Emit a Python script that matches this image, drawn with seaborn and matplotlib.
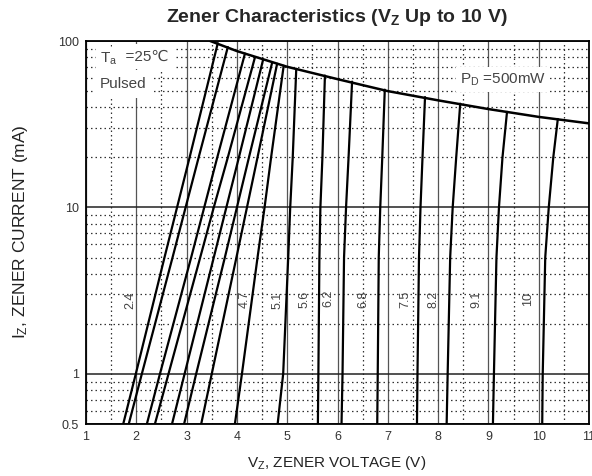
"""
Caracteristiques Zener (Vz jusqu'a 10 V) - courbes I/V en impulsion, Ta = 25 C.
"""

import matplotlib
matplotlib.use("Agg")
import numpy as np
import pandas as pd
import matplotlib.pyplot as plt
import seaborn as sns

# Diodes tracees (tension nominale)
DIODES = ["2.4", "2.7", "3.0", "3.3", "3.6", "3.9", "4.3", "4.7", "5.1",
          "5.6", "6.2", "6.8", "7.5", "8.2", "9.1", "10"]

# Courants de lecture (mA) et tension lue pour chaque diode
I_POINTS = [0.5, 1, 5, 10, 20]
V_05MA = [1.74, 1.85, 2.21, 2.37, 2.71, 2.95, 3.29, 3.96, 4.81,
          5.61, 6.08, 6.79, 7.58, 8.17, 9.09, 10.07]
V_1MA = [1.99, 2.11, 2.47, 2.64, 2.96, 3.19, 3.50, 4.10, 4.92,
         5.62, 6.10, 6.80, 7.59, 8.19, 9.11, 10.08]
V_5MA = [2.56, 2.72, 3.09, 3.27, 3.54, 3.76, 3.99, 4.41, 5.02,
         5.64, 6.13, 6.82, 7.62, 8.24, 9.16, 10.13]
V_10MA = [2.81, 2.98, 3.35, 3.54, 3.79, 4.00, 4.20, 4.55, 5.06,
          5.66, 6.17, 6.85, 7.65, 8.29, 9.21, 10.20]
V_20MA = [3.06, 3.24, 3.61, 3.82, 4.04, 4.24, 4.41, 4.68, 5.11,
          5.70, 6.22, 6.89, 7.69, 8.36, 9.28, 10.29]
# Point d'arrivee sur la limite 500 mW
V_TOP = [3.62, 3.82, 4.16, 4.36, 4.52, 4.70, 4.80, 4.93, 5.18,
         5.75, 6.29, 6.94, 7.74, 8.44, 9.37, 10.38]
I_TOP = [97, 92, 84, 80, 77, 74, 73, 71, 68,
         62, 57, 51, 46, 42, 37.5, 34]

# Limite de puissance PD = 500 mW
V_PD = [3.47, 4.0, 5.0, 6.0, 7.0, 8.0, 9.0, 10.0, 11.0]
I_PD = [100, 87, 70, 59, 50, 44, 39, 35, 32]

# Etiquettes des courbes
LABELS = ["2.4", "4.7", "5.1", "5.6", "6.2", "6.8", "7.5", "8.2", "9.1", "10"]
LABEL_V = [1.89, 4.16, 4.80, 5.35, 5.81, 6.51, 7.34, 7.90, 8.77, 9.79]
LABEL_I = [2.75, 2.8, 2.75, 2.8, 2.85, 2.8, 2.8, 2.8, 2.8, 2.8]


def construire_table():
    """Table longue : une ligne par point de chaque courbe."""
    lignes = []
    for k, d in enumerate(DIODES):
        vs = [V_05MA[k], V_1MA[k], V_5MA[k], V_10MA[k], V_20MA[k], V_TOP[k]]
        cs = I_POINTS + [I_TOP[k]]
        for v, c in zip(vs, cs):
            lignes.append({"diode": d, "V": v, "I": c})
    return pd.DataFrame(lignes)


def main():
    sns.set_theme(style="white")
    plt.rcParams["font.family"] = ["Liberation Sans", "DejaVu Sans", "Noto Sans CJK SC"]
    plt.rcParams["mathtext.fontset"] = "custom"
    plt.rcParams["mathtext.rm"] = "Liberation Sans"
    plt.rcParams["mathtext.it"] = "Liberation Sans:italic"
    plt.rcParams["mathtext.bf"] = "Liberation Sans:bold"

    df = construire_table()

    fig = plt.figure(figsize=(5.92, 4.76), dpi=100)
    ax = fig.add_axes([86 / 592, 1 - 424 / 476, 503 / 592, 383 / 476])
    ax.set_yscale("log")

    sns.lineplot(data=df, x="V", y="I", units="diode", estimator=None,
                 sort=False, color="black", lw=1.6, ax=ax)
    sns.lineplot(x=V_PD, y=I_PD, sort=False, color="black", lw=1.8, ax=ax)

    ax.set_xlim(1, 11)
    ax.set_ylim(0.5, 100)

    # Grille : traits pleins aux volts entiers et aux decades, pointilles ailleurs
    ax.set_xticks(range(1, 12))
    ax.set_xticks(np.arange(1.5, 11, 1), minor=True)
    ax.set_yticks([0.5, 1, 10, 100])
    ax.set_yticklabels(["0.5", "1", "10", "100"])
    ax.set_yticks([0.6, 0.7, 0.8, 0.9] + list(range(2, 10)) + list(range(20, 100, 10)),
                  minor=True)
    ax.yaxis.set_minor_formatter(matplotlib.ticker.NullFormatter())
    ax.set_axisbelow(True)
    ax.grid(which="major", axis="x", color="#555555", lw=0.9)
    ax.grid(which="major", axis="y", color="#222222", lw=1.1)
    ax.grid(which="minor", color="#333333", lw=0.9, linestyle=(0, (1.2, 2.4)))
    ax.tick_params(which="both", length=0, labelsize=9, labelcolor="#333333", pad=5)

    for s in ax.spines.values():
        s.set_color("black")
        s.set_linewidth(1.3)

    ax.set_xlabel("")
    ax.set_ylabel("")

    # Etiquettes des diodes
    for txt, v, c in zip(LABELS, LABEL_V, LABEL_I):
        ax.text(v, c, txt, rotation=90, ha="center", va="center",
                fontsize=9, color="#444444")

    boite = dict(facecolor="white", edgecolor="none", pad=3)
    t_a = ax.text(1.28, 78, "T$_\\mathregular{a}$", fontsize=11, color="#444444",
                  ha="left", va="center", bbox=boite, zorder=5)
    # le signe degre passe par du texte simple pour profiter du repli de police
    ax.annotate("  =25\u2103", xy=(1, 0.5), xycoords=t_a, xytext=(0, 1.5),
                textcoords="offset points", fontsize=11, color="#444444",
                ha="left", va="center", bbox=dict(facecolor="white", edgecolor="none", pad=4),
                zorder=4)
    ax.text(1.28, 55, "Pulsed", fontsize=11, color="#444444",
            ha="left", va="center", bbox=dict(facecolor="white", edgecolor="none", pad=5),
            zorder=4)
    ax.text(8.44, 58.5, "P$_\\mathregular{D}$ =500mW", fontsize=11, color="#444444",
            ha="left", va="center", bbox=boite)

    fig.text(337 / 592, 1 - 18 / 476, r"Zener Characteristics (V$_\mathbf{Z}$ Up to 10 V)",
             ha="center", va="center", fontsize=14, fontweight="bold")
    fig.text(337 / 592, 1 - 463 / 476, "V$_\\mathregular{Z}$, ZENER VOLTAGE (V)",
             ha="center", va="center", fontsize=11, color="#222222")
    fig.text(21 / 592, 1 - 232 / 476, "I$_\\mathregular{Z}$, ZENER CURRENT (mA)",
             ha="center", va="center", rotation=90, fontsize=12.5, color="#222222")

    fig.savefig("out.png", dpi=100)
    plt.close(fig)


if __name__ == "__main__":
    main()
